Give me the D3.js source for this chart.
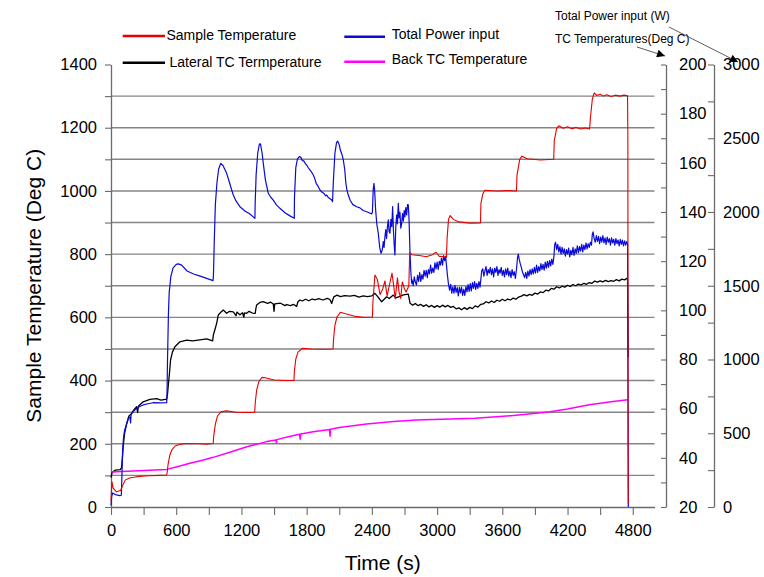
<!DOCTYPE html>
<html>
<head>
<meta charset="utf-8">
<script src="https://d3js.org/d3.v7.min.js"></script>
<style>
  body { margin: 0; background: #fff; }
  svg text { font-family: "Liberation Sans", Arial, sans-serif; }
</style>
</head>
<body>
<svg id="chart" width="764" height="577"></svg>
<script>
console.log("furnace run chart");

/*
		 DATA  (time in s)
*/
// Sample temperature, left axis (Deg C)
var sampleTemp = [[0,20],[8,80],[20,60],[50,48],[88,52],[110,70],[130,85],[170,92],[210,94],[260,97],[350,99],[450,100],[512,101],
  [517,110],[525,135],[540,162],[560,181],[590,193],[630,198],[700,201],[800,200],[880,199],[940,201],
  [945,225],[960,262],[980,288],[1010,301],[1060,304],[1150,300],[1250,299],[1322,300],
  [1327,330],[1340,370],[1360,397],[1390,410],[1430,408],[1500,402],[1600,400],[1683,400],
  [1687,430],[1700,468],[1720,490],[1760,502],[1850,500],[1950,499],[2043,500],
  [2047,530],[2060,575],[2080,602],[2110,616],[2150,612],[2250,603],[2320,600],[2405,601],
  [2410,650],[2428,734],[2450,720],[2475,672],[2500,690],[2520,715],[2540,668],[2560,700],[2585,740],[2600,702],[2615,658],[2635,725],[2650,680],[2665,660],[2680,712],[2700,690],[2715,680],[2740,700],
  [2748,805],[2770,798],[2850,795],[2900,792],[2950,797],[2990,806],[3020,793],[3060,792],[3086,790],
  [3092,850],[3105,910],[3120,922],[3150,910],[3200,902],[3300,898],[3399,899],
  [3403,960],[3420,990],[3440,1002],[3550,1000],[3650,1001],[3730,1000],
  [3735,1050],[3760,1100],[3780,1110],[3830,1102],[3950,1098],[4073,1100],
  [4078,1160],[4100,1198],[4120,1206],[4160,1198],[4200,1203],[4240,1197],[4280,1201],[4320,1196],[4360,1199],[4403,1196],
  [4410,1230],[4428,1290],[4445,1310],[4470,1302],[4500,1306],[4530,1300],[4560,1304],[4600,1299],[4640,1303],[4680,1300],[4720,1303],[4752,1301],
  [4755,1150],[4757,300],[4759,10]];

// Lateral TC, right TC axis (Deg C)
var lateralTc = [[0,32],[10,34],[40,35],[85,35.2],[97,36],[105,40],[112,44.5],[125,50],[144,54],[165,57],[190,58],[210,59.5],[236,60.8],[245,58.5],[252,61],[296,62.8],[358,63.8],[420,64.1],[460,63.5],[512,63.9],
  [520,66],[526,69],[537,74],[548,79.8],[565,83],[588,85.2],[634,87.2],[696,87.9],[750,87.6],[818,88],[880,88.4],[935,87.6],
  [942,90],[955,92],[972,94.7],[987,98.1],[1010,99.2],[1033,100.1],[1064,98.8],[1090,99.6],[1125,99.4],[1150,97.8],[1158,99.3],[1186,98.2],[1210,99],[1222,97.2],[1228,99],[1248,98.8],[1270,99.6],[1300,98.9],[1327,98.8],
  [1332,100.5],[1340,102.2],[1370,103.2],[1400,103.5],[1440,102.8],[1470,103.3],[1493,102.6],[1500,99.6],[1506,102.6],[1560,102.9],[1600,101.9],[1616,102.3],[1650,101.9],[1680,102.4],[1708,101.6],
  [1720,103.5],[1738,104.2],[1760,103.8],[1790,104.5],[1820,103.9],[1850,104.6],[1880,104.3],[1910,104.8],[1950,104.2],[1990,104.9],[2014,104.4],[2030,102.8],[2040,104.2],[2050,105.5],[2080,106.2],[2110,105.6],[2150,106.0],[2198,105.8],[2240,106.1],[2280,105.4],[2320,105.9],[2360,105.6],[2400,105.9],
  [2428,106.9],[2450,105.8],[2490,103.5],[2536,105.5],[2560,104.8],[2597,106.2],[2620,105.1],[2658,105.7],[2690,106.3],[2735,106.6],
  [2751,102.9],[2775,102.1],[2800,102.8],[2825,101.9],[2850,102.4],[2875,101.6],[2900,102.3],[2925,101.4],[2950,102.0],[2975,101.2],[3000,101.9],[3025,101.3],[3050,102.1],[3075,101.4],[3100,102.0],[3125,101.2],[3150,101.6],[3175,100.6],[3200,101.0],[3225,100.2],[3250,101.1],[3275,100.4],[3300,101.2],[3325,100.7],[3350,101.8],[3375,101.3],[3400,102.4],[3425,102.6],[3450,103.5],[3475,103.0],[3500,103.8],[3525,103.2],[3550,104.1],[3575,103.7],[3600,104.5],[3625,103.9],[3650,104.6],[3675,104.2],[3700,105.0],[3725,104.5],[3750,105.4],[3775,105.8],[3800,106.4],[3825,105.9],[3850,106.5],[3875,106.1],[3900,107.0],[3925,106.6],[3950,107.5],[3975,107.2],[4000,108.2],[4025,107.9],[4050,108.9],[4075,108.6],[4100,109.6],[4125,109.1],[4150,109.8],[4175,109.4],[4200,110.2],[4225,109.7],[4250,110.5],[4275,110.0],[4300,110.7],[4325,110.3],[4350,111.0],[4375,110.6],[4400,111.3],[4425,111.0],[4450,111.9],[4475,111.5],[4500,112.0],[4525,111.6],[4550,112.2],[4575,111.7],[4600,112.1],[4625,111.8],[4650,112.5],[4675,112.0],[4700,112.7],[4725,112.4],[4745,113.0],[4752,112.7],
  [4755,95],[4758,81]];

// Back TC, right TC axis (Deg C)
var backTc = [[10,34.2],[100,34.4],[300,34.8],[512,35.3],[600,36.3],[726,37.8],[850,39.1],[941,40.2],[1100,42.4],[1250,44.5],[1432,46.6],
  [1518,47.3],[1522,45.9],[1526,47.4],[1650,48.8],[1735,49.6],[1740,47.6],[1745,49.7],[1861,50.6],[2010,51.5],[2015,48.8],[2020,51.6],
  [2100,52.3],[2352,53.8],[2600,54.8],[2812,55.4],[3119,55.8],[3350,56.1],[3579,56.8],[3800,57.6],[4039,58.7],[4200,59.9],[4400,61.6],[4600,62.8],[4754,63.6]];

// Total power input, right power axis (W)
var powerInput = [[0,10],[6,70],[15,95],[36,86],[60,80],[82,77],[95,80],[100,200],[107,386],[115,470],[125,520],[137,544],[160,600],[175,610],[180,570],[185,625],[190,635],[210,652],[236,669],[260,680],[296,692],[340,700],[388,707],[450,706],[512,707],
  [515,750],[520,1000],[528,1300],[535,1450],[550,1560],[570,1620],[600,1645],[620,1648],[650,1640],[700,1600],[760,1580],[820,1565],[880,1550],[938,1535],
  [942,1560],[950,1800],[960,2050],[975,2200],[990,2290],[1009,2330],[1030,2315],[1050,2285],[1064,2262],[1090,2200],[1110,2150],[1125,2115],[1150,2075],[1186,2036],[1232,2007],[1278,1986],[1324,1957],
  [1326,2050],[1335,2250],[1350,2400],[1365,2460],[1375,2462],[1390,2400],[1401,2330],[1420,2220],[1447,2127],[1470,2100],[1493,2081],[1520,2050],[1554,2025],[1600,1995],[1650,1972],[1686,1957],
  [1688,2100],[1700,2300],[1715,2360],[1732,2375],[1745,2372],[1760,2350],[1775,2345],[1790,2325],[1800,2319],[1815,2300],[1830,2285],[1845,2270],[1861,2251],[1875,2225],[1890,2190],[1905,2175],[1922,2149],[1940,2135],[1960,2125],[1975,2110],[1984,2115],[2000,2098],[2015,2090],[2030,2081],[2038,2070],
  [2045,2200],[2060,2400],[2075,2470],[2085,2481],[2098,2460],[2110,2420],[2125,2390],[2137,2353],[2150,2290],[2160,2200],[2170,2150],[2183,2115],[2200,2080],[2225,2050],[2260,2036],[2290,2028],[2320,2010],[2352,2002],[2375,1995],[2398,1987],[2405,2000],[2412,2150],[2419,2195],[2425,2150],[2435,2010],[2445,1920],[2459,1856],[2472,1760],[2484,1720],
  [2495,1740],[2505,1800],[2512,1760],[2520,1833],[2528,1880],[2535,1820],[2543,1900],[2551,1946],[2558,1870],[2566,1856],[2575,1950],[2583,1900],[2591,2036],[2598,1880],[2605,1780],[2612,1709],[2620,1900],[2628,1980],[2635,1920],[2643,2059],[2650,1960],[2658,2000],[2666,1890],[2674,1923],[2682,1990],[2690,1940],[2697,2010],[2704,1968],[2712,2030],[2720,1980],[2728,2050],[2735,2048],[2742,1950],[2750,1742],[2758,1600],[2766,1517],
  [2770,1540],[2780,1500],[2790,1560],[2800,1525],[2810,1505],[2820,1570],[2830,1530],[2840,1590],[2850,1530],[2860,1575],[2870,1545],[2880,1605],[2890,1565],[2900,1605],[2910,1555],[2920,1610],[2930,1580],[2940,1640],[2950,1585],[2960,1620],[2970,1590],[2980,1655],[2990,1615],[3000,1660],[3010,1610],[3020,1665],[3030,1640],[3040,1685],[3050,1640],[3060,1705],[3070,1670],[3078,1700],[3085,1650],[3095,1570],[3105,1510],
  [3115,1470],[3125,1510],[3135,1450],[3145,1493],[3155,1450],[3165,1502],[3175,1455],[3185,1488],[3195,1431],[3205,1489],[3215,1452],[3225,1491],[3235,1435],[3245,1476],[3255,1435],[3265,1495],[3275,1459],[3285,1508],[3295,1462],[3305,1514],[3315,1465],[3325,1521],[3335,1482],[3345,1528],[3355,1475],[3365,1516],[3375,1482],[3385,1528],[3395,1490],
  [3402,1540],[3410,1600],[3420,1615],[3430,1565],[3440,1600],[3450,1630],[3460,1570],[3470,1610],[3480,1585],[3490,1625],[3500,1575],[3510,1615],[3520,1560],[3530,1620],[3540,1590],[3550,1630],[3560,1570],[3570,1610],[3580,1585],[3590,1625],[3600,1570],[3610,1605],[3620,1560],[3630,1615],[3640,1575],[3650,1620],[3660,1565],[3670,1600],[3680,1555],[3690,1610],[3700,1570],[3710,1595],[3720,1550],[3730,1610],
  [3740,1690],[3747,1715],[3755,1680],[3765,1650],[3775,1625],[3785,1595],[3795,1575],[3805,1555],[3815,1590],[3825,1550],[3835,1600],[3845,1565],[3855,1610],[3865,1575],[3875,1615],[3885,1580],[3895,1625],[3905,1585],[3915,1640],[3925,1590],[3935,1630],[3945,1600],[3955,1650],[3965,1610],[3975,1645],[3985,1605],[3995,1660],[4005,1620],[4015,1665],[4025,1625],[4035,1670],[4045,1635],[4055,1680],[4065,1645],[4075,1700],
  [4082,1780],[4090,1795],[4100,1745],[4110,1780],[4120,1730],[4130,1765],[4140,1715],[4150,1760],[4160,1720],[4170,1750],[4180,1700],[4190,1745],[4200,1715],[4210,1755],[4220,1695],[4230,1740],[4240,1710],[4250,1760],[4260,1705],[4270,1750],[4280,1720],[4290,1770],[4300,1725],[4310,1765],[4320,1735],[4330,1780],[4340,1730],[4350,1775],[4360,1745],[4370,1790],[4380,1750],[4390,1785],[4400,1760],[4410,1795],[4420,1775],
  [4428,1850],[4435,1865],[4445,1820],[4455,1795],[4465,1840],[4475,1800],[4485,1835],[4495,1785],[4505,1830],[4515,1795],[4525,1840],[4535,1790],[4545,1825],[4555,1780],[4565,1830],[4575,1795],[4585,1820],[4595,1775],[4605,1825],[4615,1790],[4625,1815],[4635,1775],[4645,1820],[4655,1785],[4665,1810],[4675,1770],[4685,1815],[4695,1780],[4705,1810],[4715,1770],[4725,1805],[4735,1775],[4745,1800],[4752,1785],
  [4757,600],[4759,0]];

// tick values
var timeTicks = [0, 300, 600, 900, 1200, 1500, 1800, 2100, 2400, 2700, 3000, 3300, 3600, 3900, 4200, 4500, 4800];
var sampleTicks = [0, 100, 200, 300, 400, 500, 600, 700, 800, 900, 1000, 1100, 1200, 1300, 1400];
var gridValues = [100, 200, 300, 400, 500, 600, 700, 800, 900, 1000, 1100, 1200, 1300];
var tcTicks = [20, 30, 40, 50, 60, 70, 80, 90, 100, 110, 120, 130, 140, 150, 160, 170, 180, 190, 200];
var powerTicks = [0, 250, 500, 750, 1000, 1250, 1500, 1750, 2000, 2250, 2500, 2750, 3000];

var legendNames = ["Sample Temperature", "Lateral TC Termperature", "Total Power input", "Back TC Temperature"];
var legendColors = ["#e60000", "#000000", "#0a0ad8", "#ff00ff"];


/*
		 LAYOUT
*/
var plotLeft = 111, plotRight = 654.5, plotTop = 64.5, plotBottom = 507;
var tcAxisX = 666, powerAxisX = 714;
var fontFam = "'Liberation Sans', Arial, sans-serif";

var svg = d3.select("#chart");

var x = d3.scaleLinear().domain([0, 5000]).range([plotLeft, plotRight]);
var ySample = d3.scaleLinear().domain([0, 1400]).range([plotBottom, plotTop]);
var yTc = d3.scaleLinear().domain([20, 200]).range([plotBottom, plotTop]);
var yPower = d3.scaleLinear().domain([0, 3000]).range([plotBottom, plotTop]);


/*
		 GRID + AXES
*/
svg.append("g").selectAll("line")
  .data(gridValues)
  .enter().append("line")
  .attr("x1", plotLeft).attr("x2", plotRight)
  .attr("y1", function(d) { return ySample(d); })
  .attr("y2", function(d) { return ySample(d); })
  .attr("stroke", "#858585")
  .attr("stroke-width", 1.4);

function styleAxis(g) {
  g.attr("font-family", fontFam).attr("font-size", 16.5).style("color", "#000");
  g.select(".domain").attr("stroke", "#6a6a6a").attr("stroke-width", 1.3);
  g.selectAll(".tick line").attr("stroke", "#6a6a6a").attr("stroke-width", 1.1);
}

var xAxis = svg.append("g")
  .attr("transform", "translate(0," + plotBottom + ")")
  .call(d3.axisBottom(x).tickValues(timeTicks)
    .tickFormat(function(d) { return d % 600 === 0 ? d : ""; })
    .tickSize(8).tickPadding(9).tickSizeOuter(0));
styleAxis(xAxis);

var leftAxis = svg.append("g")
  .attr("transform", "translate(" + plotLeft + ",0)")
  .call(d3.axisLeft(ySample).tickValues(sampleTicks)
    .tickFormat(function(d) { return d % 200 === 0 ? d : ""; })
    .tickSize(6).tickPadding(8).tickSizeOuter(0));
styleAxis(leftAxis);

var tcAxis = svg.append("g")
  .attr("transform", "translate(" + tcAxisX + ",0)")
  .call(d3.axisRight(yTc).tickValues(tcTicks)
    .tickFormat(function(d) { return d % 20 === 0 ? d : ""; })
    .tickSize(-5).tickPadding(13).tickSizeOuter(0));
styleAxis(tcAxis);

var powerAxis = svg.append("g")
  .attr("transform", "translate(" + powerAxisX + ",0)")
  .call(d3.axisRight(yPower).tickValues(powerTicks)
    .tickFormat(function(d) { return d % 500 === 0 ? d : ""; })
    .tickSize(-6).tickPadding(9).tickSizeOuter(0));
styleAxis(powerAxis);


/*
		 SERIES
*/
function drawSeries(data, yScale, color, width) {
  var line = d3.line()
    .x(function(d) { return x(d[0]); })
    .y(function(d) { return yScale(d[1]); });
  svg.append("path")
    .datum(data)
    .attr("d", line)
    .attr("fill", "none")
    .attr("stroke", color)
    .attr("stroke-width", width)
    .attr("stroke-linejoin", "round");
}

drawSeries(lateralTc, yTc, legendColors[1], 1.3);
drawSeries(backTc, yTc, legendColors[3], 1.5);
drawSeries(powerInput, yPower, legendColors[2], 1.2);
drawSeries(sampleTemp, ySample, legendColors[0], 1.1);


/*
		 LEGEND
*/
var legendPos = [
  {x1: 122.7, x2: 165, ly: 36, tx: 166.5, ty: 39.5},
  {x1: 122.7, x2: 165, ly: 62.7, tx: 169.5, ty: 67},
  {x1: 344.3, x2: 385, ly: 36.7, tx: 391.7, ty: 38.5},
  {x1: 344.3, x2: 385, ly: 61.7, tx: 391.7, ty: 64}
];

var legend = svg.append("g");
legendNames.forEach(function(name, i) {
  var p = legendPos[i];
  legend.append("line")
    .attr("x1", p.x1).attr("x2", p.x2)
    .attr("y1", p.ly).attr("y2", p.ly)
    .attr("stroke", legendColors[i]).attr("stroke-width", 2.6);
  legend.append("text")
    .attr("x", p.tx).attr("y", p.ty)
    .attr("font-size", 14)
    .text(name);
});


/*
		 AXIS TITLES + NOTES
*/
svg.append("text")
  .attr("transform", "translate(41," + ((plotTop + plotBottom) / 2) + ") rotate(-90)")
  .attr("text-anchor", "middle")
  .attr("font-size", 21)
  .text("Sample Temperature (Deg C)");

svg.append("text")
  .attr("x", (plotLeft + plotRight) / 2)
  .attr("y", 570)
  .attr("text-anchor", "middle")
  .attr("font-size", 21)
  .text("Time (s)");

svg.append("defs").append("marker")
  .attr("id", "arrow")
  .attr("viewBox", "0 0 10 10")
  .attr("refX", 10).attr("refY", 5)
  .attr("markerWidth", 11).attr("markerHeight", 8)
  .attr("markerUnits", "userSpaceOnUse")
  .attr("orient", "auto")
  .append("path")
  .attr("d", "M0,0L10,5L0,10z")
  .attr("fill", "#000");

svg.append("text").attr("x", 555).attr("y", 20).attr("font-size", 12).text("Total Power input (W)");
svg.append("text").attr("x", 555).attr("y", 42.7).attr("font-size", 12).text("TC Temperatures(Deg C)");

svg.append("line")
  .attr("x1", 669).attr("y1", 27).attr("x2", 738).attr("y2", 62)
  .attr("stroke", "#333").attr("stroke-width", 0.8)
  .attr("marker-end", "url(#arrow)");
svg.append("line")
  .attr("x1", 637).attr("y1", 47).attr("x2", 665).attr("y2", 56)
  .attr("stroke", "#333").attr("stroke-width", 0.8)
  .attr("marker-end", "url(#arrow)");

console.log("done");
</script>
</body>
</html>
